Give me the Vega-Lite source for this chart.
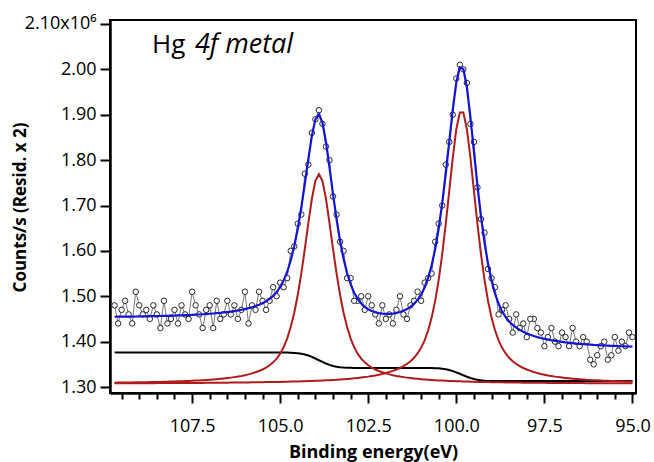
{
  "$schema": "https://vega.github.io/schema/vega-lite/v6.json",
  "width": 526,
  "height": 373,
  "autosize": "none",
  "padding": {"left": 110, "top": 20, "right": 18, "bottom": 69},
  "background": "white",
  "config": {
    "view": {"stroke": "black", "strokeWidth": 2},
    "font": "Open Sans",
    "axis": {"labelFont": "Open Sans", "titleFont": "Open Sans", "labelColor": "black", "titleColor": "black", "domainColor": "black", "tickColor": "black", "grid": false}
  },
  "data": {"values": [
    {"E":95.0,"c":1.41,"f":1.3890,"p1":1.3119,"p2":1.3081,"b":1.313},
    {"E":95.1,"c":1.42,"f":1.3893,"p1":1.3121,"p2":1.3082,"b":1.313},
    {"E":95.2,"c":1.39,"f":1.3895,"p1":1.3123,"p2":1.3082,"b":1.313},
    {"E":95.3,"c":1.40,"f":1.3898,"p1":1.3126,"p2":1.3082,"b":1.313},
    {"E":95.4,"c":1.38,"f":1.3901,"p1":1.3128,"p2":1.3083,"b":1.313},
    {"E":95.5,"c":1.41,"f":1.3905,"p1":1.3131,"p2":1.3083,"b":1.313},
    {"E":95.6,"c":1.37,"f":1.3908,"p1":1.3133,"p2":1.3083,"b":1.313},
    {"E":95.7,"c":1.36,"f":1.3912,"p1":1.3137,"p2":1.3083,"b":1.313},
    {"E":95.8,"c":1.40,"f":1.3915,"p1":1.3140,"p2":1.3084,"b":1.313},
    {"E":95.9,"c":1.39,"f":1.3919,"p1":1.3143,"p2":1.3084,"b":1.313},
    {"E":96.0,"c":1.37,"f":1.3924,"p1":1.3147,"p2":1.3084,"b":1.313},
    {"E":96.1,"c":1.35,"f":1.3928,"p1":1.3151,"p2":1.3085,"b":1.313},
    {"E":96.2,"c":1.36,"f":1.3934,"p1":1.3156,"p2":1.3085,"b":1.313},
    {"E":96.3,"c":1.40,"f":1.3939,"p1":1.3160,"p2":1.3085,"b":1.313},
    {"E":96.4,"c":1.41,"f":1.3945,"p1":1.3166,"p2":1.3086,"b":1.313},
    {"E":96.5,"c":1.39,"f":1.3951,"p1":1.3171,"p2":1.3086,"b":1.313},
    {"E":96.6,"c":1.40,"f":1.3958,"p1":1.3177,"p2":1.3087,"b":1.313},
    {"E":96.7,"c":1.43,"f":1.3966,"p1":1.3184,"p2":1.3087,"b":1.313},
    {"E":96.8,"c":1.39,"f":1.3974,"p1":1.3192,"p2":1.3088,"b":1.313},
    {"E":96.9,"c":1.41,"f":1.3983,"p1":1.3200,"p2":1.3088,"b":1.313},
    {"E":97.0,"c":1.42,"f":1.3994,"p1":1.3209,"p2":1.3089,"b":1.313},
    {"E":97.1,"c":1.39,"f":1.4005,"p1":1.3218,"p2":1.3089,"b":1.313},
    {"E":97.2,"c":1.40,"f":1.4017,"p1":1.3229,"p2":1.3090,"b":1.313},
    {"E":97.3,"c":1.43,"f":1.4030,"p1":1.3242,"p2":1.3090,"b":1.313},
    {"E":97.4,"c":1.41,"f":1.4045,"p1":1.3255,"p2":1.3091,"b":1.313},
    {"E":97.5,"c":1.39,"f":1.4061,"p1":1.3271,"p2":1.3092,"b":1.313},
    {"E":97.6,"c":1.42,"f":1.4079,"p1":1.3288,"p2":1.3092,"b":1.313},
    {"E":97.7,"c":1.43,"f":1.4100,"p1":1.3308,"p2":1.3093,"b":1.313},
    {"E":97.8,"c":1.45,"f":1.4123,"p1":1.3330,"p2":1.3094,"b":1.313},
    {"E":97.9,"c":1.45,"f":1.4150,"p1":1.3355,"p2":1.3095,"b":1.313},
    {"E":98.0,"c":1.41,"f":1.4180,"p1":1.3385,"p2":1.3095,"b":1.313},
    {"E":98.1,"c":1.44,"f":1.4216,"p1":1.3419,"p2":1.3096,"b":1.313},
    {"E":98.2,"c":1.43,"f":1.4258,"p1":1.3460,"p2":1.3097,"b":1.313},
    {"E":98.3,"c":1.46,"f":1.4308,"p1":1.3508,"p2":1.3098,"b":1.313},
    {"E":98.4,"c":1.42,"f":1.4369,"p1":1.3568,"p2":1.3099,"b":1.313},
    {"E":98.5,"c":1.45,"f":1.4445,"p1":1.3644,"p2":1.3100,"b":1.313},
    {"E":98.6,"c":1.48,"f":1.4542,"p1":1.3739,"p2":1.3101,"b":1.313},
    {"E":98.7,"c":1.47,"f":1.4667,"p1":1.3863,"p2":1.3103,"b":1.313},
    {"E":98.8,"c":1.46,"f":1.4834,"p1":1.4028,"p2":1.3104,"b":1.313},
    {"E":98.9,"c":1.52,"f":1.5054,"p1":1.4245,"p2":1.3105,"b":1.3131},
    {"E":99.0,"c":1.54,"f":1.5342,"p1":1.4530,"p2":1.3107,"b":1.3132},
    {"E":99.1,"c":1.56,"f":1.5715,"p1":1.4898,"p2":1.3108,"b":1.3135},
    {"E":99.2,"c":1.64,"f":1.6185,"p1":1.5362,"p2":1.3110,"b":1.3139},
    {"E":99.3,"c":1.67,"f":1.6761,"p1":1.5928,"p2":1.3112,"b":1.3147},
    {"E":99.4,"c":1.74,"f":1.7438,"p1":1.6590,"p2":1.3113,"b":1.3159},
    {"E":99.5,"c":1.84,"f":1.8189,"p1":1.7322,"p2":1.3115,"b":1.3176},
    {"E":99.6,"c":1.88,"f":1.8949,"p1":1.8057,"p2":1.3118,"b":1.3199},
    {"E":99.7,"c":1.97,"f":1.9605,"p1":1.8682,"p2":1.3120,"b":1.3227},
    {"E":99.8,"c":2.00,"f":2.0007,"p1":1.9051,"p2":1.3122,"b":1.3258},
    {"E":99.9,"c":2.01,"f":2.0044,"p1":1.9051,"p2":1.3125,"b":1.3292},
    {"E":100.0,"c":1.98,"f":1.9710,"p1":1.8682,"p2":1.3128,"b":1.3323},
    {"E":100.1,"c":1.90,"f":1.9116,"p1":1.8057,"p2":1.3131,"b":1.3351},
    {"E":100.2,"c":1.84,"f":1.8407,"p1":1.7322,"p2":1.3134,"b":1.3374},
    {"E":100.3,"c":1.79,"f":1.7697,"p1":1.6590,"p2":1.3137,"b":1.3391},
    {"E":100.4,"c":1.70,"f":1.7050,"p1":1.5928,"p2":1.3141,"b":1.3403},
    {"E":100.5,"c":1.66,"f":1.6497,"p1":1.5362,"p2":1.3145,"b":1.3411},
    {"E":100.6,"c":1.62,"f":1.6042,"p1":1.4898,"p2":1.3150,"b":1.3415},
    {"E":100.7,"c":1.55,"f":1.5682,"p1":1.4530,"p2":1.3155,"b":1.3418},
    {"E":100.8,"c":1.54,"f":1.5403,"p1":1.4245,"p2":1.3160,"b":1.3419},
    {"E":100.9,"c":1.53,"f":1.5194,"p1":1.4028,"p2":1.3166,"b":1.342},
    {"E":101.0,"c":1.49,"f":1.5036,"p1":1.3863,"p2":1.3173,"b":1.342},
    {"E":101.1,"c":1.51,"f":1.4919,"p1":1.3739,"p2":1.3180,"b":1.342},
    {"E":101.2,"c":1.49,"f":1.4832,"p1":1.3644,"p2":1.3188,"b":1.342},
    {"E":101.3,"c":1.48,"f":1.4766,"p1":1.3568,"p2":1.3197,"b":1.342},
    {"E":101.4,"c":1.45,"f":1.4717,"p1":1.3508,"p2":1.3207,"b":1.342},
    {"E":101.5,"c":1.46,"f":1.4680,"p1":1.3460,"p2":1.3218,"b":1.342},
    {"E":101.6,"c":1.50,"f":1.4652,"p1":1.3419,"p2":1.3230,"b":1.342},
    {"E":101.7,"c":1.47,"f":1.4632,"p1":1.3385,"p2":1.3244,"b":1.342},
    {"E":101.8,"c":1.44,"f":1.4619,"p1":1.3355,"p2":1.3260,"b":1.342},
    {"E":101.9,"c":1.46,"f":1.4611,"p1":1.3330,"p2":1.3278,"b":1.342},
    {"E":102.0,"c":1.45,"f":1.4611,"p1":1.3308,"p2":1.3300,"b":1.342},
    {"E":102.1,"c":1.48,"f":1.4616,"p1":1.3288,"p2":1.3324,"b":1.342},
    {"E":102.2,"c":1.44,"f":1.4628,"p1":1.3271,"p2":1.3353,"b":1.342},
    {"E":102.3,"c":1.46,"f":1.4646,"p1":1.3255,"p2":1.3386,"b":1.342},
    {"E":102.4,"c":1.48,"f":1.4675,"p1":1.3242,"p2":1.3428,"b":1.342},
    {"E":102.5,"c":1.50,"f":1.4714,"p1":1.3229,"p2":1.3479,"b":1.342},
    {"E":102.6,"c":1.47,"f":1.4768,"p1":1.3218,"p2":1.3544,"b":1.342},
    {"E":102.7,"c":1.50,"f":1.4842,"p1":1.3209,"p2":1.3627,"b":1.342},
    {"E":102.8,"c":1.49,"f":1.4942,"p1":1.3200,"p2":1.3736,"b":1.342},
    {"E":102.9,"c":1.49,"f":1.5079,"p1":1.3192,"p2":1.3881,"b":1.342},
    {"E":103.0,"c":1.54,"f":1.5265,"p1":1.3184,"p2":1.4072,"b":1.3422},
    {"E":103.1,"c":1.54,"f":1.5510,"p1":1.3177,"p2":1.4321,"b":1.3424},
    {"E":103.2,"c":1.60,"f":1.5825,"p1":1.3171,"p2":1.4638,"b":1.3428},
    {"E":103.3,"c":1.62,"f":1.6222,"p1":1.3166,"p2":1.5033,"b":1.3435},
    {"E":103.4,"c":1.68,"f":1.6700,"p1":1.3160,"p2":1.5505,"b":1.3446},
    {"E":103.5,"c":1.72,"f":1.7251,"p1":1.3156,"p2":1.6043,"b":1.3463},
    {"E":103.6,"c":1.80,"f":1.7840,"p1":1.3151,"p2":1.6613,"b":1.3487},
    {"E":103.7,"c":1.83,"f":1.8402,"p1":1.3147,"p2":1.7148,"b":1.3517},
    {"E":103.8,"c":1.88,"f":1.8828,"p1":1.3143,"p2":1.7543,"b":1.3552},
    {"E":103.9,"c":1.91,"f":1.9010,"p1":1.3140,"p2":1.7690,"b":1.359},
    {"E":104.0,"c":1.89,"f":1.8898,"p1":1.3137,"p2":1.7543,"b":1.3628},
    {"E":104.1,"c":1.86,"f":1.8535,"p1":1.3133,"p2":1.7148,"b":1.3663},
    {"E":104.2,"c":1.79,"f":1.8028,"p1":1.3131,"p2":1.6613,"b":1.3693},
    {"E":104.3,"c":1.77,"f":1.7480,"p1":1.3128,"p2":1.6043,"b":1.3717},
    {"E":104.4,"c":1.68,"f":1.6957,"p1":1.3126,"p2":1.5505,"b":1.3734},
    {"E":104.5,"c":1.66,"f":1.6494,"p1":1.3123,"p2":1.5033,"b":1.3745},
    {"E":104.6,"c":1.61,"f":1.6104,"p1":1.3121,"p2":1.4638,"b":1.3752},
    {"E":104.7,"c":1.60,"f":1.5789,"p1":1.3119,"p2":1.4321,"b":1.3756},
    {"E":104.8,"c":1.54,"f":1.5540,"p1":1.3117,"p2":1.4072,"b":1.3758},
    {"E":104.9,"c":1.52,"f":1.5350,"p1":1.3115,"p2":1.3881,"b":1.376},
    {"E":105.0,"c":1.53,"f":1.5203,"p1":1.3113,"p2":1.3736,"b":1.376},
    {"E":105.1,"c":1.50,"f":1.5093,"p1":1.3112,"p2":1.3627,"b":1.376},
    {"E":105.2,"c":1.52,"f":1.5009,"p1":1.3110,"p2":1.3544,"b":1.376},
    {"E":105.3,"c":1.49,"f":1.4943,"p1":1.3109,"p2":1.3479,"b":1.376},
    {"E":105.4,"c":1.47,"f":1.4891,"p1":1.3108,"p2":1.3428,"b":1.376},
    {"E":105.5,"c":1.49,"f":1.4848,"p1":1.3106,"p2":1.3386,"b":1.376},
    {"E":105.6,"c":1.51,"f":1.4814,"p1":1.3105,"p2":1.3353,"b":1.376},
    {"E":105.7,"c":1.47,"f":1.4784,"p1":1.3104,"p2":1.3324,"b":1.376},
    {"E":105.8,"c":1.48,"f":1.4759,"p1":1.3103,"p2":1.3300,"b":1.376},
    {"E":105.9,"c":1.44,"f":1.4737,"p1":1.3102,"p2":1.3278,"b":1.376},
    {"E":106.0,"c":1.51,"f":1.4718,"p1":1.3101,"p2":1.3260,"b":1.376},
    {"E":106.1,"c":1.47,"f":1.4702,"p1":1.3100,"p2":1.3244,"b":1.376},
    {"E":106.2,"c":1.45,"f":1.4687,"p1":1.3099,"p2":1.3230,"b":1.376},
    {"E":106.3,"c":1.48,"f":1.4674,"p1":1.3098,"p2":1.3218,"b":1.376},
    {"E":106.4,"c":1.46,"f":1.4662,"p1":1.3097,"p2":1.3207,"b":1.376},
    {"E":106.5,"c":1.49,"f":1.4652,"p1":1.3096,"p2":1.3197,"b":1.376},
    {"E":106.6,"c":1.46,"f":1.4643,"p1":1.3096,"p2":1.3188,"b":1.376},
    {"E":106.7,"c":1.45,"f":1.4634,"p1":1.3095,"p2":1.3180,"b":1.376},
    {"E":106.8,"c":1.49,"f":1.4627,"p1":1.3094,"p2":1.3173,"b":1.376},
    {"E":106.9,"c":1.43,"f":1.4620,"p1":1.3093,"p2":1.3166,"b":1.376},
    {"E":107.0,"c":1.48,"f":1.4614,"p1":1.3093,"p2":1.3160,"b":1.376},
    {"E":107.1,"c":1.47,"f":1.4608,"p1":1.3092,"p2":1.3155,"b":1.376},
    {"E":107.2,"c":1.43,"f":1.4603,"p1":1.3091,"p2":1.3150,"b":1.376},
    {"E":107.3,"c":1.46,"f":1.4598,"p1":1.3091,"p2":1.3145,"b":1.376},
    {"E":107.4,"c":1.48,"f":1.4594,"p1":1.3090,"p2":1.3141,"b":1.376},
    {"E":107.5,"c":1.51,"f":1.4590,"p1":1.3090,"p2":1.3137,"b":1.376},
    {"E":107.6,"c":1.45,"f":1.4586,"p1":1.3089,"p2":1.3134,"b":1.376},
    {"E":107.7,"c":1.46,"f":1.4583,"p1":1.3089,"p2":1.3131,"b":1.376},
    {"E":107.8,"c":1.48,"f":1.4579,"p1":1.3088,"p2":1.3128,"b":1.376},
    {"E":107.9,"c":1.44,"f":1.4577,"p1":1.3088,"p2":1.3125,"b":1.376},
    {"E":108.0,"c":1.47,"f":1.4574,"p1":1.3087,"p2":1.3122,"b":1.376},
    {"E":108.1,"c":1.45,"f":1.4571,"p1":1.3087,"p2":1.3120,"b":1.376},
    {"E":108.2,"c":1.44,"f":1.4569,"p1":1.3087,"p2":1.3118,"b":1.376},
    {"E":108.3,"c":1.49,"f":1.4567,"p1":1.3086,"p2":1.3115,"b":1.376},
    {"E":108.4,"c":1.43,"f":1.4565,"p1":1.3086,"p2":1.3113,"b":1.376},
    {"E":108.5,"c":1.46,"f":1.4563,"p1":1.3086,"p2":1.3112,"b":1.376},
    {"E":108.6,"c":1.48,"f":1.4561,"p1":1.3085,"p2":1.3110,"b":1.376},
    {"E":108.7,"c":1.45,"f":1.4560,"p1":1.3085,"p2":1.3108,"b":1.376},
    {"E":108.8,"c":1.47,"f":1.4558,"p1":1.3085,"p2":1.3107,"b":1.376},
    {"E":108.9,"c":1.46,"f":1.4557,"p1":1.3084,"p2":1.3105,"b":1.376},
    {"E":109.0,"c":1.48,"f":1.4555,"p1":1.3084,"p2":1.3104,"b":1.376},
    {"E":109.1,"c":1.51,"f":1.4554,"p1":1.3084,"p2":1.3103,"b":1.376},
    {"E":109.2,"c":1.44,"f":1.4553,"p1":1.3083,"p2":1.3101,"b":1.376},
    {"E":109.3,"c":1.46,"f":1.4552,"p1":1.3083,"p2":1.3100,"b":1.376},
    {"E":109.4,"c":1.49,"f":1.4551,"p1":1.3083,"p2":1.3099,"b":1.376},
    {"E":109.5,"c":1.47,"f":1.4550,"p1":1.3083,"p2":1.3098,"b":1.376},
    {"E":109.6,"c":1.44,"f":1.4549,"p1":1.3082,"p2":1.3097,"b":1.376},
    {"E":109.7,"c":1.48,"f":1.4548,"p1":1.3082,"p2":1.3096,"b":1.376}
  ]},
  "encoding": {
    "x": {
      "field": "E", "type": "quantitative",
      "scale": {"domain": [94.9, 109.83], "reverse": true, "nice": false, "zero": false},
      "axis": {
        "values": [95,95.5,96,96.5,97,97.5,98,98.5,99,99.5,100,100.5,101,101.5,102,102.5,103,103.5,104,104.5,105,105.5,106,106.5,107,107.5,108,108.5,109,109.5],
        "labelExpr": "round(datum.value*2)%5==0 ? format(datum.value,'.1f') : ''",
        "tickSize": {"condition": {"test": "round(datum.value*2)%5!=0", "value": 6}, "value": 10},
        "tickWidth": 2, "domainWidth": 2.5,
        "labelFontSize": 18, "labelPadding": 14, "labelOverlap": false, "labelFlush": false,
        "title": "Binding energy(eV)", "titleFontSize": 18, "titleFontWeight": "bold",
        "titleY": 59, "titleBaseline": "middle"
      }
    }
  },
  "layer": [
    {
      "mark": {"type": "line", "color": "#555555", "strokeWidth": 0.8},
      "encoding": {
        "y": {
          "field": "c", "type": "quantitative",
          "scale": {"domain": [1.2868, 2.1088], "nice": false, "zero": false},
          "axis": {
            "values": [1.3,1.35,1.4,1.45,1.5,1.55,1.6,1.65,1.7,1.75,1.8,1.85,1.9,1.95,2.0,2.05,2.1],
            "labelExpr": "round(datum.value*20)%2==1 ? '' : (datum.value > 2.05 ? '2.10x10⁶' : format(datum.value,'.2f'))",
            "tickSize": {"condition": {"test": "round(datum.value*20)%2==1", "value": 6}, "value": 10},
            "tickWidth": 2, "domainWidth": 2.5,
            "labelFontSize": 18, "labelPadding": 4, "labelOverlap": false, "labelFlush": false,
            "title": "Counts/s (Resid. x 2)", "titleFontSize": 17, "titleFontWeight": "bold",
            "titleX": -90, "titleY": 187, "titleAngle": -90, "titleBaseline": "middle", "titleAlign": "center"
          }
        }
      }
    },
    {
      "mark": {"type": "point", "shape": "circle", "filled": true, "fill": "white", "stroke": "#111111", "strokeWidth": 0.9, "size": 30, "opacity": 1},
      "encoding": {"y": {"field": "c", "type": "quantitative", "title": "Counts/s (Resid. x 2)"}}
    },
    {
      "mark": {"type": "line", "color": "black", "strokeWidth": 2},
      "encoding": {"y": {"field": "b", "type": "quantitative", "title": "Counts/s (Resid. x 2)"}}
    },
    {
      "mark": {"type": "line", "color": "#b01c1c", "strokeWidth": 2},
      "encoding": {"y": {"field": "p1", "type": "quantitative", "title": "Counts/s (Resid. x 2)"}}
    },
    {
      "mark": {"type": "line", "color": "#b01c1c", "strokeWidth": 2},
      "encoding": {"y": {"field": "p2", "type": "quantitative", "title": "Counts/s (Resid. x 2)"}}
    },
    {
      "mark": {"type": "line", "color": "#1414d8", "strokeWidth": 2.2},
      "encoding": {"y": {"field": "f", "type": "quantitative", "title": "Counts/s (Resid. x 2)"}}
    },
    {
      "data": {"values": [{"E": 108.638, "v": 2.0361, "t": "Hg"}]},
      "mark": {"type": "text", "align": "left", "baseline": "alphabetic", "fontSize": 26, "font": "Open Sans", "color": "black"},
      "encoding": {
        "y": {"field": "v", "type": "quantitative", "title": "Counts/s (Resid. x 2)"},
        "text": {"field": "t"}
      }
    },
    {
      "data": {"values": [{"E": 107.42, "v": 2.0361, "t": "4f metal"}]},
      "mark": {"type": "text", "align": "left", "baseline": "alphabetic", "fontSize": 27, "font": "Open Sans", "fontStyle": "italic", "color": "black"},
      "encoding": {
        "y": {"field": "v", "type": "quantitative", "title": "Counts/s (Resid. x 2)"},
        "text": {"field": "t"}
      }
    }
  ]
}
